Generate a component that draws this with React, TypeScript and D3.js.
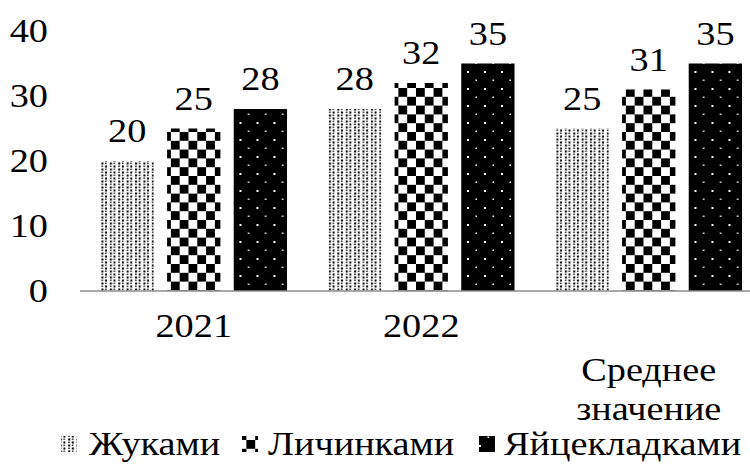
import React from "react";
import * as d3 from "d3";

const categories = ["2021", "2022", "Среднее значение"];
const seriesNames = ["Жуками", "Личинками", "Яйцекладками"];
const beetles = [20, 28, 25];
const larvae = [25, 32, 31];
const eggClutches = [28, 35, 35];
const yTicks = [0, 10, 20, 30, 40];

const W = 750;
const H = 464;
const FONT = "Liberation Serif, serif";
const FS = 33;
const STRETCH = 1.16;

type LabelProps = { x: number; y: number; anchor?: "start" | "middle" | "end"; children: React.ReactNode };

// Text drawn slightly widened horizontally, like the rest of the figure
function Label({ x, y, anchor = "start", children }: LabelProps) {
  return (
    <text
      transform={`translate(${x},${y}) scale(${STRETCH},1)`}
      textAnchor={anchor}
      fontSize={FS}
      fill="#000"
      style={{ fontFamily: FONT }}
    >
      {children}
    </text>
  );
}

export default function App() {
  const series = [beetles, larvae, eggClutches];
  const x0 = d3.scaleBand<string>().domain(categories).range([80, 762.5]).paddingInner(0.18).paddingOuter(0.09);
  const x1 = d3.scaleBand<number>().domain([0, 1, 2]).range([0, x0.bandwidth()]).paddingInner(0.2);
  const y = d3.scaleLinear().domain([0, 40]).range([291, 31]);
  const fills = ["url(#pDots)", "url(#pCheck)", "url(#pBlack)"];

  const legendItems = [
    { sx: 61, tx: 89 },
    { sx: 242, tx: 268 },
    { sx: 479, tx: 504 },
  ];

  return (
    <svg width={W} height={H} style={{ position: "absolute", left: 0, top: 0, background: "#fff" }}>
      <defs>
        <pattern id="pDots" width="8.4" height="6" patternUnits="userSpaceOnUse">
          <rect width="8.4" height="6" fill="#fff" />
          <rect x="1" y="0.5" width="2" height="2" fill="#000" />
          <rect x="4.6" y="0.5" width="1.6" height="1.6" fill="#333" />
          <rect x="1" y="3.5" width="1.6" height="1.6" fill="#333" />
          <rect x="4.6" y="3.5" width="2" height="2" fill="#000" />
        </pattern>
        <pattern id="pCheck" width="17.6" height="17.6" patternUnits="userSpaceOnUse">
          <rect width="17.6" height="17.6" fill="#fff" />
          <rect x="0" y="0" width="8.8" height="8.8" fill="#000" />
          <rect x="8.8" y="8.8" width="8.8" height="8.8" fill="#000" />
        </pattern>
        <pattern id="pBlack" width="17" height="17" patternUnits="userSpaceOnUse">
          <rect width="17" height="17" fill="#000" />
          <rect x="3" y="3" width="2" height="2" fill="#fff" />
          <rect x="11.5" y="11.5" width="1.5" height="1.5" fill="#fff" />
        </pattern>
      </defs>

      {yTicks.map((t) => (
        <Label key={t} x={48} y={y(t) + 11} anchor="end">
          {t}
        </Label>
      ))}

      {categories.map((c, ci) => (
        <g key={c} transform={`translate(${x0(c)},0)`}>
          {series.map((vals, si) => {
            const v = vals[ci];
            const bx = x1(si)!;
            return (
              <g key={si}>
                <rect x={bx} y={y(v)} width={x1.bandwidth()} height={y(0) - y(v)} fill={fills[si]} />
                <Label x={bx + x1.bandwidth() / 2} y={y(v) - 19} anchor="middle">
                  {v}
                </Label>
              </g>
            );
          })}
        </g>
      ))}

      <line x1={80} x2={W} y1={y(0)} y2={y(0)} stroke="#8c8c8c" strokeWidth={1.5} />

      {categories.map((c) => {
        const cx = x0(c)! + x0.bandwidth() / 2;
        const words = c.split(" ");
        return (
          <g key={c}>
            {words.length === 1 ? (
              <Label x={cx} y={337} anchor="middle">{c}</Label>
            ) : (
              words.map((w, i) => (
                <Label key={w} x={cx} y={381 + i * 39} anchor="middle">{w}</Label>
              ))
            )}
          </g>
        );
      })}

      {seriesNames.map((name, i) => (
        <g key={name}>
          <rect x={legendItems[i].sx} y={436} width={16} height={16} fill={fills[i]} />
          <Label x={legendItems[i].tx} y={455}>
            {name}
          </Label>
        </g>
      ))}
    </svg>
  );
}
